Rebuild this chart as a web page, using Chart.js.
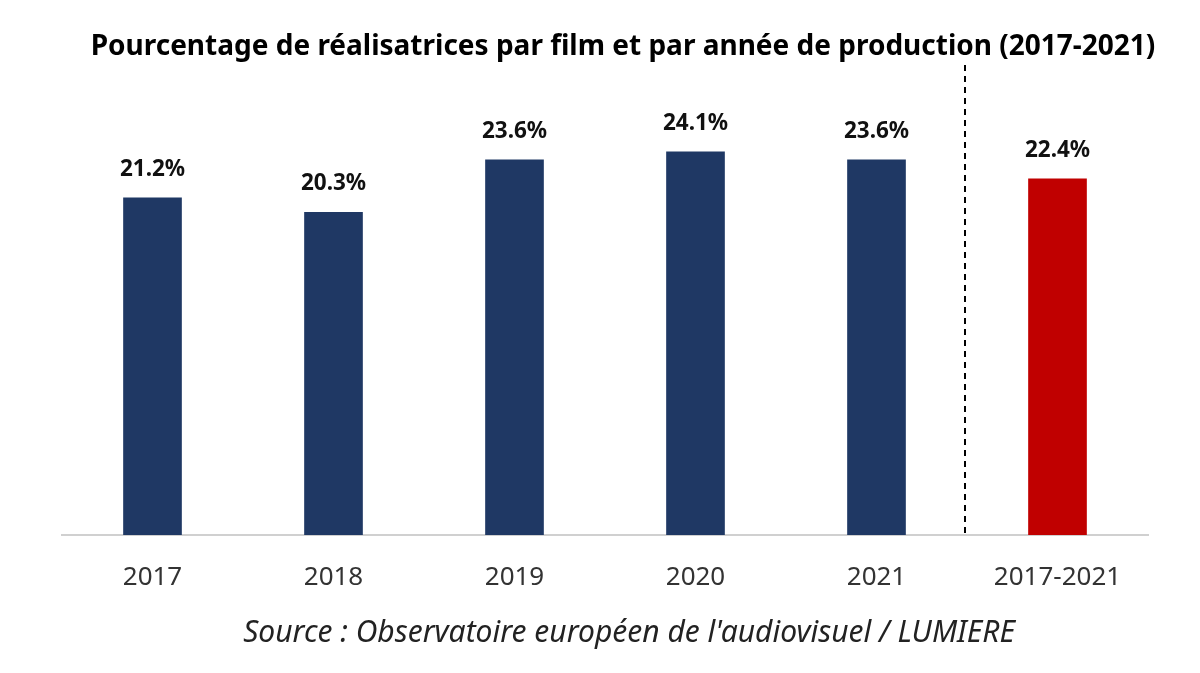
<!DOCTYPE html>
<html>
<head>
<meta charset="utf-8">
<script src="https://cdn.jsdelivr.net/npm/chart.js@4"></script>
<style>
  body { margin: 0; background: #fff; }
</style>
</head>
<body>
<canvas id="chart" width="1200" height="673"></canvas>
<script>
// data
const categories = ['2017', '2018', '2019', '2020', '2021', '2017-2021'];
const shares = [21.2, 20.3, 23.6, 24.1, 23.6, 22.4];
const barColors = ['#1f3864', '#1f3864', '#1f3864', '#1f3864', '#1f3864', '#c00000'];

const titleText = 'Pourcentage de réalisatrices par film et par année de production (2017-2021)';
const sourceText = "Source : Observatoire européen de l'audiovisuel / LUMIERE";

// labels, title, dashed separator, source
const extras = {
    id: 'extras',
    afterDatasetsDraw(chart) {
        const ctx = chart.ctx;
        const meta = chart.getDatasetMeta(0);
        const area = chart.chartArea;
        ctx.save();
        ctx.fillStyle = '#111';
        ctx.textAlign = 'center';
        ctx.textBaseline = 'bottom';
        ctx.font = 'bold 22.5px "Noto Sans"';
        meta.data.forEach((bar, i) => {
            ctx.fillText(shares[i].toFixed(1) + '%', bar.x, bar.y - 17);
        });

        // separator between yearly bars and the total
        const x = (meta.data[4].x + meta.data[5].x) / 2 - 2;
        ctx.strokeStyle = '#000';
        ctx.lineWidth = 2;
        ctx.setLineDash([6, 5]);
        ctx.beginPath();
        ctx.moveTo(x, 65);
        ctx.lineTo(x, area.bottom);
        ctx.stroke();
        ctx.setLineDash([]);

        ctx.font = 'bold 28px "Noto Sans"';
        ctx.fillStyle = '#000';
        ctx.textBaseline = 'middle';
        ctx.fillText(titleText, 623, 47);

        ctx.font = 'italic 30px "Noto Sans"';
        ctx.fillStyle = '#222';
        ctx.fillText(sourceText, 629, 633);
        ctx.restore();
    }
};

new Chart(document.getElementById('chart'), {
    type: 'bar',
    data: {
        labels: categories,
        datasets: [{
            data: shares,
            backgroundColor: barColors,
            barThickness: 58
        }]
    },
    options: {
        responsive: false,
        animation: false,
        layout: { padding: { left: 62, right: 52, top: 58, bottom: 88 } },
        plugins: { legend: { display: false }, tooltip: { enabled: false } },
        scales: {
            x: {
                grid: { display: false, drawTicks: false },
                border: { color: '#d0d0d0', width: 2 },
                ticks: { color: '#333', font: { family: 'Noto Sans', size: 26 }, padding: 27 },
                afterFit(scale) { scale.height = 50; }
            },
            y: {
                display: false,
                min: 0,
                max: 30
            }
        }
    },
    plugins: [extras]
});
</script>
</body>
</html>
